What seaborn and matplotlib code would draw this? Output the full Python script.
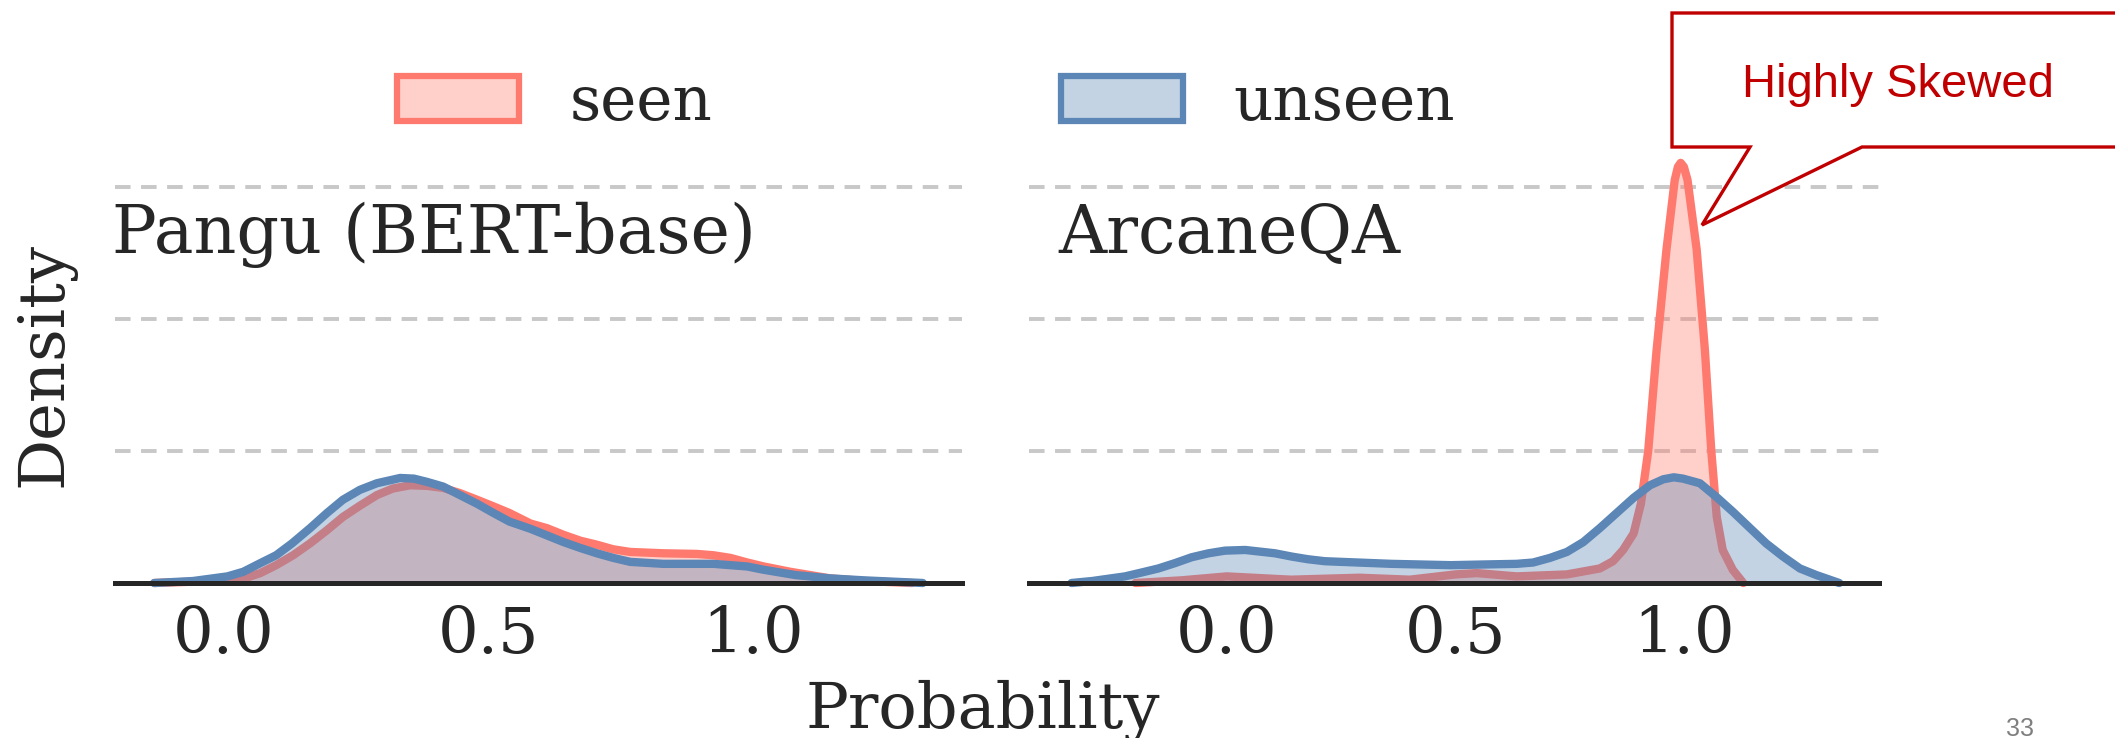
import matplotlib
matplotlib.use("Agg")
import matplotlib.pyplot as plt
import seaborn as sns
from matplotlib.patches import Patch, Polygon

# densities (x = probability, y = density)
pangu_seen_x = [-0.13, -0.02, 0.04, 0.07, 0.10, 0.132, 0.164, 0.196, 0.226, 0.258, 0.29, 0.32,
                0.353, 0.385, 0.415, 0.447, 0.479, 0.51, 0.54, 0.58, 0.611, 0.642, 0.674, 0.705,
                0.736, 0.768, 0.83, 0.894, 0.925, 0.957, 0.989, 1.02, 1.07, 1.145, 1.21, 1.30]
pangu_seen_y = [0.0, 0.03, 0.07, 0.15, 0.27, 0.42, 0.60, 0.80, 1.00, 1.17, 1.33, 1.43,
                1.48, 1.47, 1.44, 1.36, 1.26, 1.16, 1.06, 0.90, 0.83, 0.73, 0.64, 0.58,
                0.51, 0.47, 0.45, 0.44, 0.42, 0.38, 0.31, 0.25, 0.17, 0.07, 0.03, 0.0]

pangu_unseen_x = [-0.13, -0.057, 0.008, 0.038, 0.07, 0.10, 0.13, 0.164, 0.196, 0.226, 0.258,
                  0.29, 0.334, 0.36, 0.385, 0.415, 0.447, 0.479, 0.51, 0.54, 0.58, 0.611, 0.642,
                  0.674, 0.705, 0.736, 0.768, 0.83, 0.894, 0.925, 0.957, 0.989, 1.02, 1.05, 1.08,
                  1.145, 1.21, 1.32]
pangu_unseen_y = [0.0, 0.03, 0.10, 0.17, 0.30, 0.42, 0.60, 0.83, 1.06, 1.26, 1.41,
                  1.51, 1.59, 1.58, 1.53, 1.46, 1.33, 1.20, 1.06, 0.93, 0.82, 0.72, 0.62,
                  0.53, 0.45, 0.38, 0.32, 0.29, 0.29, 0.29, 0.27, 0.25, 0.20, 0.16, 0.12,
                  0.07, 0.04, 0.0]

arcane_seen_x = [-0.2, -0.1, 0.0, 0.14, 0.29, 0.40, 0.50, 0.547, 0.634, 0.744, 0.816, 0.845, 0.867,
                 0.89, 0.906, 0.922, 0.94, 0.962, 0.98, 0.987, 0.993, 1.0, 1.008, 1.028, 1.046,
                 1.06, 1.072, 1.085, 1.107, 1.13]
arcane_seen_y = [0.0, 0.04, 0.10, 0.05, 0.08, 0.05, 0.13, 0.15, 0.10, 0.13, 0.22, 0.33, 0.5,
                 0.75, 1.2, 2.0, 3.5, 5.05, 6.1, 6.3, 6.36, 6.3, 6.1, 5.05, 3.53,
                 2.0, 1.0, 0.5, 0.2, 0.0]

arcane_unseen_x = [-0.34, -0.295, -0.223, -0.186, -0.15, -0.114, -0.077, -0.04, -0.004, 0.04,
                   0.105, 0.142, 0.177, 0.214, 0.25, 0.36, 0.49, 0.56, 0.634, 0.67, 0.707, 0.744,
                   0.78, 0.816, 0.853, 0.89, 0.926, 0.955, 0.978, 0.998, 1.035, 1.07, 1.107,
                   1.145, 1.18, 1.217, 1.254, 1.29, 1.34]
arcane_unseen_y = [0.0, 0.03, 0.10, 0.16, 0.22, 0.30, 0.39, 0.45, 0.49, 0.50,
                   0.45, 0.40, 0.36, 0.33, 0.32, 0.29, 0.27, 0.28, 0.29, 0.31, 0.38, 0.47,
                   0.62, 0.83, 1.06, 1.29, 1.48, 1.57, 1.60, 1.58, 1.51, 1.31, 1.08,
                   0.83, 0.60, 0.40, 0.22, 0.12, 0.0]

panels = ["Pangu (BERT-base)", "ArcaneQA"]
labels = ["seen", "unseen"]
colors = ["#FF7A6E", "#5B86B5"]
xticks = [0.0, 0.5, 1.0]
grid_y = [2, 4, 6]

W, H = 2115, 738


def fx(px):
    return px / W


def fy(py):
    return 1 - py / H


sns.set_theme(style="white")
plt.rcParams["font.family"] = ["DejaVu Serif"]
plt.rcParams["text.color"] = "#262626"

fig = plt.figure(figsize=(W / 100, H / 100), dpi=100)

ax_l = fig.add_axes([fx(115), fy(583), fx(962) - fx(115), fy(147) - fy(583)])
ax_r = fig.add_axes([fx(1029), fy(583), fx(1879) - fx(1029), fy(147) - fy(583)])

series = [
    (ax_l, [(pangu_seen_x, pangu_seen_y), (pangu_unseen_x, pangu_unseen_y)], (-0.204, 1.394), -0.004),
    (ax_r, [(arcane_seen_x, arcane_seen_y), (arcane_unseen_x, arcane_unseen_y)], (-0.433, 1.427), 0.035),
]

for (ax, curves, xlim, tx), name in zip(series, panels):
    for i, ((x, y), c) in enumerate(zip(curves, colors)):
        # fill then line, per series, so the later fill tints the earlier line
        z = 2 + i * 0.2
        ax.fill_between(x, y, 0, color=c, alpha=0.36, linewidth=0, zorder=z)
        sns.lineplot(x=x, y=y, ax=ax, color=c, linewidth=6, legend=False, sort=False,
                     solid_capstyle="round", solid_joinstyle="round", clip_on=False,
                     zorder=z + 0.1)
    ax.set_xlim(*xlim)
    ax.set_ylim(0, 6.6)
    ax.set_xticks(xticks)
    ax.set_xticklabels([f"{t:.1f}" for t in xticks])
    ax.set_yticks(grid_y)
    ax.tick_params(axis="y", left=False, labelleft=False)
    ax.tick_params(axis="x", length=0, pad=16, labelsize=46, labelcolor="#262626")
    ax.yaxis.grid(True, linestyle=(0, (4, 2.7)), color="#c8c8c8", linewidth=2.8)
    ax.xaxis.grid(False)
    ax.set_axisbelow(True)
    for s in ["left", "top", "right"]:
        ax.spines[s].set_visible(False)
    ax.spines["bottom"].set_color("#262626")
    ax.spines["bottom"].set_linewidth(3.6)
    ax.spines["bottom"].set_zorder(5)
    ax.set_xlabel("")
    ax.set_ylabel("")
    ax.text(tx, 5.0, name, transform=ax.get_yaxis_transform(), fontsize=48,
            va="baseline", ha="left")

handles = [Patch(facecolor=(*matplotlib.colors.to_rgb(c), 0.36), edgecolor=c, linewidth=4.5)
           for c in colors]
fig.legend(handles, labels, loc="center", bbox_to_anchor=(fx(926), fy(103)), ncol=2,
           frameon=False, fontsize=44, handlelength=2.0, handleheight=0.77,
           handletextpad=0.82, columnspacing=5.7)

fig.text(fx(983), fy(728), "Probability", ha="center", va="baseline", fontsize=46)
fig.text(fx(45), fy(364), "Density", rotation=90, ha="center", va="center", fontsize=46)

# callout box
pts = [(1672, 13), (2130, 13), (2130, 147), (1862, 147), (1702, 225), (1750, 147), (1672, 147)]
fig.add_artist(Polygon([(fx(a), fy(b)) for a, b in pts], closed=True, facecolor="white",
                       edgecolor="#C00000", linewidth=2.4, transform=fig.transFigure, zorder=10))
fig.text(fx(1742), fy(97), "Highly Skewed", family="Liberation Sans", fontsize=34,
         color="#C00000", va="baseline", ha="left", zorder=11)

fig.text(fx(2020), fy(736), "33", family="Liberation Sans", fontsize=18, color="#7f7f7f",
         ha="center", va="baseline")

fig.savefig("out.png", dpi=100, facecolor="white")
